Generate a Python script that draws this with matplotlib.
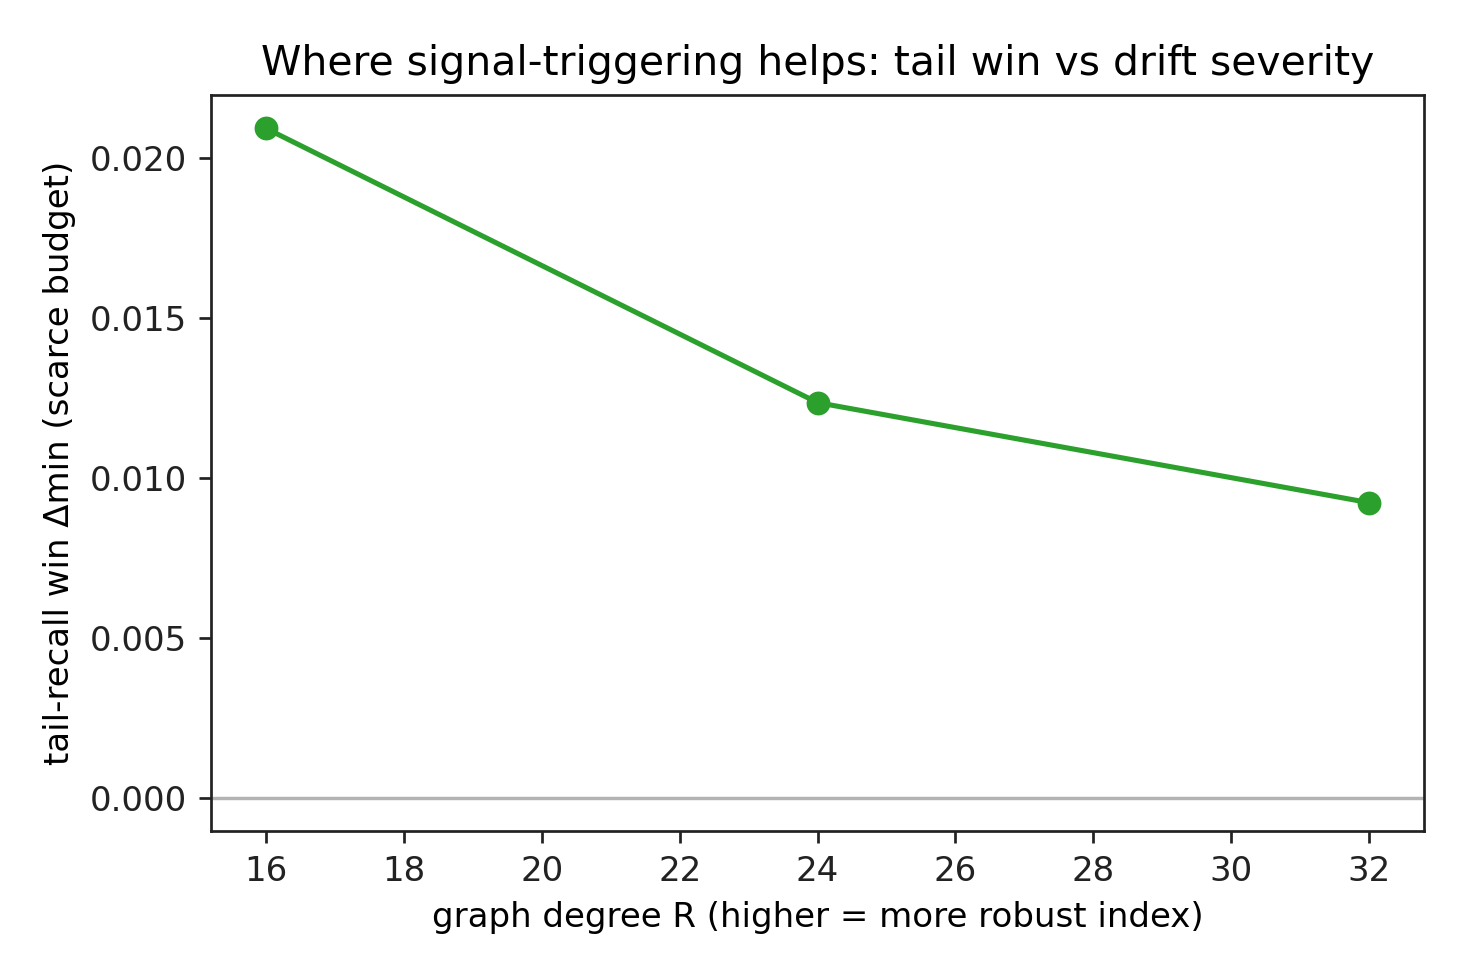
import matplotlib
matplotlib.use("Agg")
import matplotlib.pyplot as plt

degrees = [16, 24, 32]
tail_win = [0.02094, 0.01236, 0.00923]

fig, ax = plt.subplots(figsize=(6, 4), dpi=245)
fig.subplots_adjust(left=211/1470, right=1424/1470, top=1-95/980, bottom=1-831/980)
ax.axhline(0, color="0.7", lw=1)
ax.plot(degrees, tail_win, marker="o", color="#2ca02c")
ax.set_xlabel("graph degree R (higher = more robust index)")
ax.set_ylabel("tail-recall win Δmin (scarce budget)")
ax.set_title("Where signal-triggering helps: tail win vs drift severity")
for s in ax.spines.values():
    s.set_color("#222222")
ax.tick_params(colors="#222222")
fig.savefig("out.png")
